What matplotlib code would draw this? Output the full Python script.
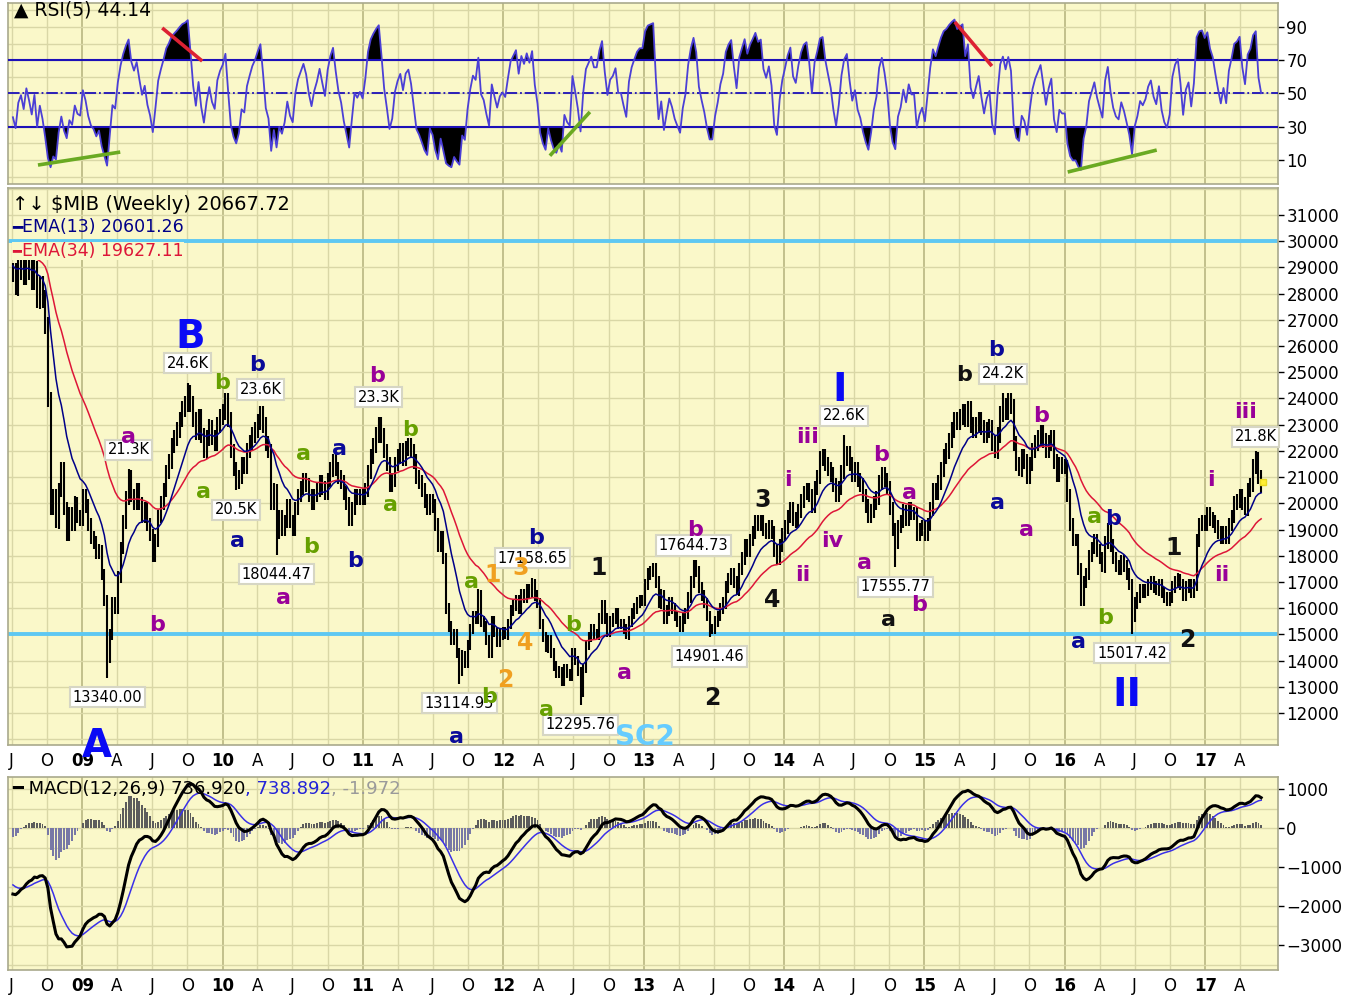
import numpy as np
import pandas as pd
import matplotlib
matplotlib.use('Agg')
import matplotlib.pyplot as plt
import matplotlib.dates as mdates

W, H = 1362, 996

# ── Palette ──────────────────────────────────────────
PANEL = "#FAF8C9"; GRID = "#D9D7A6"; GRID_YR = "#C2C08C"; FRAME = "#A9A98C"
CYAN = "#5EC8F2"; NAVY = "#000088"; RED = "#DD1638"; RSI_C = "#4B3FD6"; BAND = "#1C10B8"
PURPLE = "#990099"; GREEN = "#66A000"; WNAVY = "#0A0A99"; BLUE = "#0A0AF5"
ORANGE = "#F0A020"; BLACK = "#111111"; SKY = "#66CCFF"

# ── Weekly closes ($MIB) ─────────────────────────────
close_2008 = [28800, 28300, 28900, 29100, 28700, 29200, 28900, 28500, 28900, 27800, 28300, 27800, 26800,
              24000, 19800, 20300, 19300, 20500, 21300, 19800, 18800, 19600, 19200, 20000, 19500, 19400]
close_2009 = [20300, 19900, 19200, 18700, 18500, 18100, 18200, 17300, 16300, 14100, 15000, 16200, 16000,
              17200, 18300, 19300, 20200, 21000, 20300, 20000, 20500, 20000, 19500, 19800, 19200, 18800,
              18000, 18600, 19500, 20000, 20500, 21200, 21600, 22200, 22500, 22800, 23200, 23600, 23800,
              24200, 23800, 23200, 22700, 23300, 22600, 22000, 22500, 22900, 22500, 22300, 23000, 23300]
close_2010 = [23500, 23900, 23200, 22000, 21300, 20800, 21000, 21500, 21400, 22000, 22300, 22600, 22800,
              23100, 23400, 23000, 22300, 22000, 20000, 20500, 18900, 19500, 19000, 19300, 19900, 19300,
              19000, 19800, 20300, 20600, 20900, 20700, 20300, 20000, 20300, 20500, 20800, 20600, 20400,
              20900, 21300, 21600, 21300, 21000, 20800, 20400, 20000, 19400, 19800, 20300, 20200, 20300, 20200]
close_2011 = [20500, 21200, 21800, 22200, 22600, 23000, 22600, 22000, 21500, 20700, 20900, 21500,
              21800, 22000, 21700, 22100, 22200, 22000, 21600, 21000, 20800, 20500, 20100, 19800, 20100,
              19900, 19200, 18400, 18700, 17900, 16000, 15300, 14800, 15000, 14300, 13600, 14200, 13900, 14600,
              15200, 15700, 15600, 16500, 15500, 15300, 14800, 14300, 15500, 15100, 14700, 15000, 15100]
close_2012 = [15000, 15400, 15900, 16100, 16300, 16000, 16500, 16400, 16700, 16600, 16900, 16500, 16200,
              15400, 14900, 14500, 14800, 14300, 13800, 13500, 13600, 13200, 13700, 13500, 13400, 14300,
              14000, 13600, 12800, 13700, 14600, 14900, 15200, 15000, 15000, 15600, 16100, 15600, 15100,
              15500, 15600, 15800, 15400, 15400, 15200, 15000, 15500, 15800, 16000, 16200, 16300, 16300]
close_2013 = [16900, 17300, 17400, 17500, 17000, 16200, 16500, 15600, 15900, 16200, 16000, 15700, 15500,
              15300, 15600, 15800, 16400, 17000, 17600, 17400, 16800, 16500, 16200, 15700, 15200, 15200,
              15500, 15700, 16000, 16200, 16800, 17100, 17300, 17000, 16700, 17500, 17900, 18400, 18200,
              18600, 18900, 19300, 19200, 19300, 19000, 18900, 19100, 18900, 18200, 17900, 18400, 18800]
close_2014 = [19100, 19500, 19800, 19400, 19300, 19700, 20100, 20400, 20500, 20300, 19900, 20600, 21000,
              21700, 21800, 21500, 21300, 21100, 20700, 20300, 20600, 21200, 21700, 21900, 21500, 21100,
              21300, 20900, 20700, 20300, 19900, 19500, 19700, 20000, 20200, 20800, 21100, 20900, 20600,
              19800, 19000, 18500, 19100, 19300, 19700, 19400, 19800, 19600, 19600, 18800, 19000, 19100]
close_2015 = [18800, 19200, 19800, 20500, 20400, 20800, 21300, 21800, 22000, 22400, 22800, 23200, 23100,
              23300, 23500, 23200, 23600, 23000, 22800, 23000, 23200, 22900, 22600, 22800, 22900, 22300,
              22000, 22600, 23400, 23700, 23500, 23900, 23700, 22300, 21500, 21300, 21800, 21600, 21000,
              21500, 22000, 22300, 22500, 22700, 22400, 22000, 22300, 22500, 21600, 21100, 21500, 21400]
close_2016 = [21400, 20300, 19200, 18600, 18600, 17500, 16300, 17000, 17300, 18000, 18300, 18600, 18200,
              17900, 17600, 18500, 19000, 18400, 17900, 17600, 17500, 17800, 17600, 17300, 16900, 15700,
              16200, 16400, 16700, 16600, 16700, 16900, 17000, 16800, 16700, 16900, 16600, 16400, 16300, 16400,
              16800, 17000, 17100, 16900, 16500, 16800, 16900, 16600, 16900, 18600, 19200, 19300, 19200]
close_2017 = [19600, 19400, 19300, 19100, 18900, 18700, 18900, 18700, 19200, 19500, 20000, 20100, 20300,
              20000, 19800, 20500, 20700, 21400, 21700, 21000, 20667.72]

# seeds for the indicators (history before the first bar shown)
ema13_seed, ema34_seed = 29100, 29800
ema12_seed, ema26_seed, signal_seed = 30300, 32000, -1400
rsi_gain_seed, rsi_loss_seed = 250, 450

# labelled highs / lows
callout_dates = ['2009-03-06', '2009-05-01', '2009-10-02', '2010-02-05', '2010-04-09', '2010-05-21',
                 '2011-02-11', '2011-09-09', '2012-03-16', '2012-07-20', '2013-05-10', '2013-06-21',
                 '2014-06-06', '2014-10-17', '2015-07-24', '2016-06-24', '2017-05-12']
callout_values = [13340.00, 21300, 24600, 20500, 23600, 18044.47, 23300, 13114.95, 17158.65, 12295.76,
                  17644.73, 14901.46, 22600, 17555.77, 24200, 15017.42, 21800]
callout_texts = ['13340.00', '21.3K', '24.6K', '20.5K', '23.6K', '18044.47', '23.3K', '13114.95', '17158.65',
                 '12295.76', '17644.73', '14901.46', '22.6K', '17555.77', '24.2K', '15017.42', '21.8K']
callout_sides = ['low', 'high', 'high', 'low', 'high', 'low', 'high', 'low', 'high', 'low', 'high', 'low',
                 'high', 'low', 'high', 'low', 'high']

# wave labels: (decimal year, price, text, colour, size)
wave_labels = [
    (2009.105, 10740, 'A', BLUE, 28), (2009.768, 26350, 'B', BLUE, 28),
    (2009.326, 22535, 'a', PURPLE, 16), (2009.533, 15360, 'b', PURPLE, 16),
    (2009.996, 24600, 'b', GREEN, 16), (2009.860, 20440, 'a', GREEN, 16),
    (2010.245, 25280, 'b', WNAVY, 16), (2010.103, 18565, 'a', WNAVY, 16),
    (2010.573, 21890, 'a', GREEN, 16), (2010.630, 18340, 'b', GREEN, 16),
    (2010.430, 16390, 'a', PURPLE, 16), (2010.829, 22080, 'a', WNAVY, 16),
    (2010.943, 17800, 'b', WNAVY, 16), (2011.100, 24860, 'b', PURPLE, 16),
    (2011.335, 22800, 'b', GREEN, 16), (2011.199, 19940, 'a', GREEN, 16),
    (2011.669, 11085, 'a', WNAVY, 16), (2011.776, 17000, 'a', GREEN, 16),
    (2011.926, 17270, '1', ORANGE, 17), (2011.897, 12610, 'b', GREEN, 16),
    (2012.011, 13260, '2', ORANGE, 17), (2012.125, 17535, '3', ORANGE, 17),
    (2012.232, 18680, 'b', WNAVY, 16), (2012.154, 14670, '4', ORANGE, 17),
    (2012.496, 15360, 'b', GREEN, 16), (2012.311, 12115, 'a', GREEN, 16),
    (2013.009, 11085, 'SC2', SKY, 20), (2012.681, 17535, '1', BLACK, 17),
    (2012.866, 13530, 'a', PURPLE, 16), (2013.365, 18985, 'b', PURPLE, 16),
    (2013.486, 12575, '2', BLACK, 17), (2013.842, 20130, '3', BLACK, 17),
    (2013.913, 16315, '4', BLACK, 17), (2014.027, 20895, 'i', PURPLE, 16),
    (2014.134, 17270, 'ii', PURPLE, 16), (2014.169, 22535, 'iii', PURPLE, 16),
    (2014.397, 24330, 'I', BLUE, 28), (2014.340, 18565, 'iv', PURPLE, 16),
    (2014.689, 21850, 'b', PURPLE, 16), (2014.575, 17725, 'a', PURPLE, 16),
    (2014.896, 20400, 'a', PURPLE, 16), (2014.960, 16120, 'b', PURPLE, 16),
    (2014.746, 15550, 'a', BLACK, 16), (2015.281, 24900, 'b', BLACK, 16),
    (2015.509, 25855, 'b', WNAVY, 16), (2015.523, 20015, 'a', WNAVY, 16),
    (2015.829, 23335, 'b', PURPLE, 16), (2015.729, 18985, 'a', PURPLE, 16),
    (2016.214, 19480, 'a', GREEN, 16), (2016.342, 19405, 'b', WNAVY, 16),
    (2016.285, 15625, 'b', GREEN, 16), (2016.100, 14710, 'a', WNAVY, 16),
    (2016.442, 12690, 'II', BLUE, 28), (2016.776, 18300, '1', BLACK, 17),
    (2016.876, 14785, '2', BLACK, 17), (2017.040, 20895, 'i', PURPLE, 16),
    (2017.118, 17270, 'ii', PURPLE, 16), (2017.289, 23490, 'iii', PURPLE, 16),
]

# trend lines drawn on the RSI: (year0, rsi0, year1, rsi1, colour)
rsi_lines = [(2008.685, 7.0, 2009.269, 14.8, '#6AAA22'), (2009.568, 89.4, 2009.853, 69.5, '#DD2233'),
             (2012.332, 12.6, 2012.617, 38.9, '#6AAA22'), (2015.216, 93.0, 2015.480, 66.5, '#DD2233'),
             (2016.021, 2.8, 2016.655, 16.0, '#6AAA22')]


def yr2num(y):
    yi = int(y)
    return mdates.date2num(pd.Timestamp(year=yi, month=1, day=1) + pd.Timedelta(days=(y - yi) * 365.25))


closes = np.array(close_2008 + close_2009 + close_2010 + close_2011 + close_2012 + close_2013 +
                  close_2014 + close_2015 + close_2016 + close_2017, dtype=float)
dates = pd.date_range('2008-07-04', periods=len(closes), freq='W-FRI')
xd = mdates.date2num(dates.to_pydatetime())

opens = np.r_[closes[0], closes[:-1]]
wick = 0.013 * closes
highs = np.maximum(opens, closes) + wick
lows = np.minimum(opens, closes) - wick
for d, v, s in zip(callout_dates, callout_values, callout_sides):
    i = int(np.argmin(np.abs(xd - mdates.date2num(pd.Timestamp(d)))))
    if s == 'high':
        highs[i] = max(highs[i], v)
    else:
        lows[i] = min(lows[i], v)


def ema(vals, span, seed):
    a = 2.0 / (span + 1.0)
    out, prev = [], seed
    for v in vals:
        prev += a * (v - prev)
        out.append(prev)
    return np.array(out)


def wilder(vals, n, seed):
    out, prev = [], seed
    for v in vals:
        prev += (v - prev) / n
        out.append(prev)
    return np.array(out)


ema13 = ema(closes, 13, ema13_seed)
ema34 = ema(closes, 34, ema34_seed)
macd = ema(closes, 12, ema12_seed) - ema(closes, 26, ema26_seed)
signal = ema(macd, 9, signal_seed)
hist = macd - signal
diff = np.diff(closes, prepend=closes[0])
rsi_g = wilder(np.clip(diff, 0, None), 5, rsi_gain_seed)
rsi_l = wilder(np.clip(-diff, 0, None), 5, rsi_loss_seed)
rsi = 100 - 100 / (1 + rsi_g / rsi_l)

# ── Figure / panels ──────────────────────────────────
fig = plt.figure(figsize=(W / 100, H / 100), dpi=100)
fig.patch.set_facecolor('white')


def box(top, bottom):
    return [8 / W, 1 - bottom / H, 1270 / W, (bottom - top) / H]


ax_rsi = fig.add_axes(box(3, 184))
ax_px = fig.add_axes(box(188, 745))
ax_macd = fig.add_axes(box(777, 970))

x_left, x_right = yr2num(2008.4715), yr2num(2017.517)
qt = pd.date_range('2008-07-01', '2017-04-01', freq='QS')
qt_num = mdates.date2num(qt.to_pydatetime())
qt_labels = ['%02d' % (d.year % 100) if d.month == 1 else {4: 'A', 7: 'J', 10: 'O'}[d.month] for d in qt]

for ax in (ax_rsi, ax_px, ax_macd):
    ax.set_facecolor(PANEL)
    ax.set_xlim(x_left, x_right)
    for s in ax.spines.values():
        s.set_color(FRAME); s.set_linewidth(1.2)
    ax.yaxis.tick_right()
    ax.tick_params(axis='y', direction='out', length=4, width=1, pad=2, labelsize=12, colors='black')
    ax.tick_params(axis='x', length=0, pad=5)
    for q, d in zip(qt_num, qt):
        ax.axvline(q, color=GRID_YR if d.month == 1 else GRID, lw=1.4 if d.month == 1 else 1.0, zorder=0)
    ax.set_xticks(qt_num)
    if ax is ax_rsi:
        ax.set_xticklabels([])
    else:
        ax.set_xticklabels(qt_labels, fontsize=12)
        for lab, d in zip(ax.get_xticklabels(), qt):
            if d.month == 1:
                lab.set_fontweight('bold')

# ── RSI panel ────────────────────────────────────────
ax_rsi.set_ylim(-4.4, 104.4)
for lv in range(0, 101, 10):
    ax_rsi.axhline(lv, color=GRID, lw=1.0, zorder=0)
ax_rsi.set_yticks([10, 30, 50, 70, 90])
ax_rsi.fill_between(xd, rsi, 70, where=rsi >= 70, interpolate=True, color='black', lw=0, zorder=2)
ax_rsi.fill_between(xd, rsi, 30, where=rsi <= 30, interpolate=True, color='black', lw=0, zorder=2)
ax_rsi.axhline(70, color=BAND, lw=1.5, zorder=3)
ax_rsi.axhline(30, color=BAND, lw=1.5, zorder=3)
ax_rsi.axhline(50, color=BAND, lw=1.3, ls='-.', zorder=3)
ax_rsi.plot(xd, rsi, color=RSI_C, lw=1.3, zorder=4)
for y0, r0, y1, r1, c in rsi_lines:
    ax_rsi.plot([yr2num(y0), yr2num(y1)], [r0, r1], color=c, lw=2.6, solid_capstyle='butt', zorder=5)
fig.text(14 / W, 1 - 10 / H, '▲ RSI(5) 44.14', fontsize=13.5, color='black', va='center', ha='left')

# ── Price panel ──────────────────────────────────────
ax_px.set_ylim(10779, 32030)
for lv in range(11000, 32001, 1000):
    ax_px.axhline(lv, color=GRID, lw=1.0, zorder=0)
ax_px.set_yticks(range(12000, 31001, 1000))
ax_px.axhline(30000, color=CYAN, lw=2.8, zorder=1)
ax_px.axhline(15000, color=CYAN, lw=2.8, zorder=1)
ax_px.vlines(xd, lows, highs, color='black', lw=1.5, zorder=2)
ax_px.hlines(closes, xd, xd + 2.5, color='black', lw=1.2, zorder=2)
ax_px.hlines(opens, xd - 2.5, xd, color='black', lw=1.2, zorder=2)
ax_px.plot(xd, ema34, color=RED, lw=1.1, zorder=3)
ax_px.plot(xd, ema13, color=NAVY, lw=1.1, zorder=3)
ax_px.plot(xd[-1] + 4, closes[-1] + 150, 's', color='#FFEE33', mec='#E8D820', ms=5, zorder=4)

for d, v, t, s in zip(callout_dates, callout_values, callout_texts, callout_sides):
    ax_px.annotate(t, xy=(mdates.date2num(pd.Timestamp(d)), v), xytext=(0, 14 if s == 'high' else -14),
                   textcoords='offset points', ha='center', va='center', fontsize=10.5, color='black',
                   bbox=dict(boxstyle='square,pad=0.18', fc='white', ec='#D6D6C4', lw=1.5), zorder=6)

for y, p, t, c, s in wave_labels:
    ax_px.text(yr2num(y), p, t, color=c, fontsize=s, fontweight='bold', ha='center', va='center',
               zorder=8, clip_on=False)


def rainbow(x, y, pieces, size, ax, bg=None):
    bb = dict(boxstyle='square,pad=0.02', fc=bg, ec='none') if bg else None
    t = ax.text(x / W, 1 - y / H, pieces[0][0], color=pieces[0][1], fontsize=size, va='center',
                ha='left', transform=fig.transFigure, zorder=9, bbox=bb)
    for s, c in pieces[1:]:
        t = ax.annotate(s, xy=(1, 0), xycoords=t, va='bottom', ha='left', color=c, fontsize=size,
                        zorder=9, bbox=bb)


rainbow(12, 205, [('↑↓ $MIB (Weekly) 20667.72', 'black')], 14, ax_px)
rainbow(12, 227, [('━', NAVY), ('EMA(13) 20601.26', NAVY)], 12.5, ax_px)
rainbow(12, 251, [('━', RED), ('EMA(34) 19627.11', RED)], 12.5, ax_px, bg=PANEL)

# ── MACD panel ───────────────────────────────────────
ax_macd.set_ylim(-3641, 1308)
for lv in range(-3500, 1001, 500):
    ax_macd.axhline(lv, color=GRID, lw=1.0, zorder=0)
ax_macd.set_yticks([1000, 0, -1000, -2000, -3000])
ax_macd.bar(xd, hist, width=5, color=np.where(hist >= 0, '#5C5C5C', '#7878A6'), lw=0, zorder=2)
ax_macd.plot(xd, signal, color='#3A30E8', lw=1.1, zorder=3)
ax_macd.plot(xd, macd, color='black', lw=2.2, zorder=4)
rainbow(12, 789, [('━ MACD(12,26,9) 736.920', 'black'), (', 738.892', '#2424D8'), (', -1.972', '#9A9A9A')],
        13, ax_macd)

plt.savefig('out.png', dpi=100, facecolor='white')
plt.close()
